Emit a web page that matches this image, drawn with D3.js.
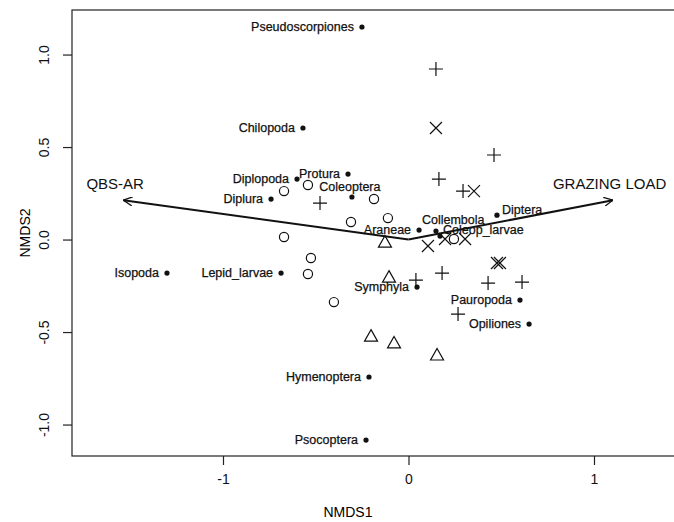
<!DOCTYPE html>
<html>
<head>
<meta charset="utf-8">
<script src="https://cdn.jsdelivr.net/npm/d3@7"></script>
<style>
  body { margin: 0; background: #fff; }
  svg { display: block; font-family: "Liberation Sans", Arial, sans-serif; }
  .axis path, .axis line { stroke: #222; }
  .species-label { font-size: 12.5px; fill: #111; stroke: #111; stroke-width: 0.25px; }
</style>
</head>
<body>
<div id="chart"></div>
<script>
// species scores (NMDS1, NMDS2)
var species_names = ['Pseudoscorpiones', 'Chilopoda', 'Protura', 'Diplopoda', 'Coleoptera', 'Diplura',
  'Diptera', 'Collembola', 'Araneae', 'Coleop_larvae', 'Isopoda', 'Lepid_larvae', 'Symphyla',
  'Pauropoda', 'Opiliones', 'Hymenoptera', 'Psocoptera'];
var species_x = [-0.251, -0.569, -0.326, -0.601, -0.305, -0.741, 0.477, 0.148, 0.057, 0.170,
  -1.302, -0.687, 0.046, 0.601, 0.650, -0.213, -0.229];
var species_y = [1.149, 0.603, 0.354, 0.327, 0.230, 0.219, 0.132, 0.046, 0.051, 0.019,
  -0.181, -0.181, -0.257, -0.327, -0.457, -0.743, -1.084];

// site scores, one pair of arrays per symbol group
var circle_x = [-0.671, -0.542, -0.186, -0.310, -0.111, -0.671, -0.526, -0.542, -0.402, 0.245];
var circle_y = [0.262, 0.295, 0.219, 0.095, 0.116, 0.014, -0.100, -0.186, -0.338, 0.003];

var triangle_x = [-0.127, -0.105, -0.202, -0.078, 0.154];
var triangle_y = [-0.014, -0.203, -0.522, -0.559, -0.624];

var plus_x = [0.148, 0.461, 0.164, 0.294, -0.477, 0.181, 0.040, 0.429, 0.612, 0.267];
var plus_y = [0.922, 0.457, 0.327, 0.262, 0.197, -0.181, -0.219, -0.235, -0.230, -0.403];

var cross_x = [0.148, 0.353, 0.105, 0.197, 0.305, 0.477, 0.493];
var cross_y = [0.603, 0.262, -0.035, 0.003, 0.003, -0.127, -0.127];

// environmental vectors
var vector_names = ['QBS-AR', 'GRAZING LOAD'];
var vector_x = [-1.537, 1.102];
var vector_y = [0.213, 0.213];

var x_ticks = [-1, 0, 1];
var y_ticks = [-1.0, -0.5, 0.0, 0.5, 1.0];

var W = 674, H = 522;
var margin = { top: 10, left: 72, right: -2, bottom: 66 };
var width  = W - margin.left - margin.right;
var height = H - margin.top - margin.bottom;

var x = d3.scaleLinear()
  .domain([-1.814, -1.814 + width / 185.5])
  .range([0, width]);

var y = d3.scaleLinear()
  .domain([-1.17, -1.17 + height / 185])
  .range([height, 0]);

var svg = d3.select('#chart').append('svg')
  .attr('width', W)
  .attr('height', H);

svg.append('rect').attr('width', W).attr('height', H).attr('fill', '#fff');

var gph = svg.append('g')
  .attr('transform', `translate(${margin.left},${margin.top})`);

// frame
gph.append('rect')
  .attr('x', 0).attr('y', 0)
  .attr('width', width).attr('height', height)
  .attr('fill', 'none')
  .attr('stroke', '#222')
  .attr('stroke-width', 1.2);

var x_axis = gph.append('g')
  .attr('class', 'axis x-axis')
  .attr('transform', `translate(0,${height})`)
  .call(d3.axisBottom(x).tickValues(x_ticks).tickFormat((d) => String(d)).tickSize(9).tickSizeOuter(0));

x_axis.select('.domain').remove();
x_axis.selectAll('line').attr('stroke-width', 1.2);
x_axis.selectAll('text')
  .attr('y', 18)
  .attr('dy', '0.71em')
  .style('font-size', '14px')
  .style('fill', '#111');

var y_axis = gph.append('g')
  .attr('class', 'axis y-axis')
  .call(d3.axisLeft(y).tickValues(y_ticks).tickFormat((d) => d.toFixed(1)).tickSize(9).tickSizeOuter(0));

y_axis.select('.domain').remove();
y_axis.selectAll('line').attr('stroke-width', 1.2);
y_axis.selectAll('text')
  .attr('x', null).attr('dy', null)
  .attr('transform', 'translate(-28,0) rotate(-90)')
  .attr('text-anchor', 'middle')
  .attr('dominant-baseline', 'central')
  .style('font-size', '14px')
  .style('fill', '#111');

svg.append('text')
  .attr('x', 348).attr('y', 512)
  .attr('text-anchor', 'middle')
  .attr('dominant-baseline', 'central')
  .style('font-size', '14px')
  .text('NMDS1');

svg.append('text')
  .attr('transform', `translate(25,${margin.top + height / 2}) rotate(-90)`)
  .attr('text-anchor', 'middle')
  .attr('dominant-baseline', 'central')
  .style('font-size', '14px')
  .text('NMDS2');

// vectors
svg.append('defs').append('marker')
  .attr('id', 'head')
  .attr('viewBox', '0 0 10 10')
  .attr('refX', 10).attr('refY', 5)
  .attr('markerWidth', 9).attr('markerHeight', 9)
  .attr('markerUnits', 'userSpaceOnUse')
  .attr('orient', 'auto')
  .append('path')
  .attr('d', 'M0,0 L10,5 L0,10')
  .attr('fill', 'none')
  .attr('stroke', '#111')
  .attr('stroke-width', 1.4);

var vectors = vector_names.map((n, i) => ({ name: n, x: vector_x[i], y: vector_y[i] }));

gph.selectAll('line.vector')
  .data(vectors).enter()
  .append('line')
  .attr('class', 'vector')
  .attr('x1', x(0)).attr('y1', y(0))
  .attr('x2', (d) => x(d.x)).attr('y2', (d) => y(d.y))
  .attr('stroke', '#111')
  .attr('stroke-width', 2)
  .attr('marker-end', 'url(#head)');

gph.selectAll('text.vector-label')
  .data(vectors).enter()
  .append('text')
  .attr('class', 'vector-label')
  .attr('x', (d) => d.x < 0 ? x(d.x) - 37 : x(d.x) - 60)
  .attr('y', (d) => y(d.y) - 11)
  .style('font-size', '15px')
  .style('fill', '#111')
  .text((d) => d.name);

// site symbols
var pts = (xs, ys) => xs.map((v, i) => [x(v), y(ys[i])]);

gph.selectAll('circle.site')
  .data(pts(circle_x, circle_y)).enter()
  .append('circle')
  .attr('class', 'site')
  .attr('cx', (d) => d[0]).attr('cy', (d) => d[1])
  .attr('r', 4.6)
  .attr('fill', 'none').attr('stroke', '#111').attr('stroke-width', 1.2);

gph.selectAll('path.tri')
  .data(pts(triangle_x, triangle_y)).enter()
  .append('path')
  .attr('class', 'tri')
  .attr('d', (d) => `M${d[0]},${d[1] - 6.5} L${d[0] + 6.5},${d[1] + 5} L${d[0] - 6.5},${d[1] + 5} Z`)
  .attr('fill', 'none').attr('stroke', '#111').attr('stroke-width', 1.2);

gph.selectAll('path.plus')
  .data(pts(plus_x, plus_y)).enter()
  .append('path')
  .attr('class', 'plus')
  .attr('d', (d) => `M${d[0] - 7},${d[1]} H${d[0] + 7} M${d[0]},${d[1] - 7} V${d[1] + 7}`)
  .attr('stroke', '#111').attr('stroke-width', 1.2);

gph.selectAll('path.cross')
  .data(pts(cross_x, cross_y)).enter()
  .append('path')
  .attr('class', 'cross')
  .attr('d', (d) => `M${d[0] - 6},${d[1] - 6} L${d[0] + 6},${d[1] + 6} M${d[0] + 6},${d[1] - 6} L${d[0] - 6},${d[1] + 6}`)
  .attr('stroke', '#111').attr('stroke-width', 1.2);

// species
var species = species_names.map((n, i) => ({ name: n, x: species_x[i], y: species_y[i] }));

// label placement: [text-anchor, dx, dy]
var label_nudge = {
  'Coleoptera': ['middle', -2, -10],
  'Collembola': ['start', -14, -11],
  'Coleop_larvae': ['start', 3, -6],
  'Diptera': ['start', 5, -5],
};

gph.selectAll('circle.sp')
  .data(species).enter()
  .append('circle')
  .attr('class', 'sp')
  .attr('cx', (d) => x(d.x)).attr('cy', (d) => y(d.y))
  .attr('r', 2.6)
  .attr('fill', '#111');

gph.selectAll('text.species-label')
  .data(species).enter()
  .append('text')
  .attr('class', 'species-label')
  .attr('x', (d) => x(d.x) + (label_nudge[d.name] ? label_nudge[d.name][1] : -8))
  .attr('y', (d) => y(d.y) + (label_nudge[d.name] ? label_nudge[d.name][2] : 0))
  .attr('text-anchor', (d) => label_nudge[d.name] ? label_nudge[d.name][0] : 'end')
  .attr('dominant-baseline', 'central')
  .text((d) => d.name);
</script>
</body>
</html>
